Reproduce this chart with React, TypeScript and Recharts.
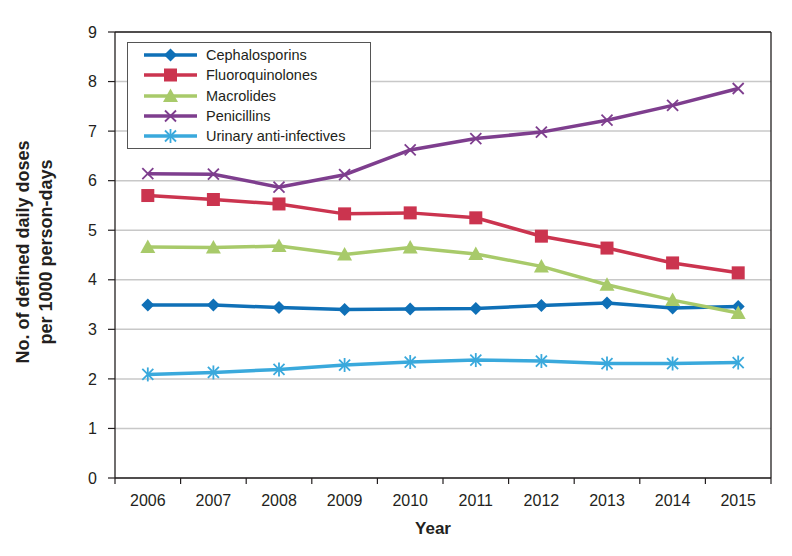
import { LineChart, Line, XAxis, YAxis, CartesianGrid, Legend, Label } from 'recharts';

const years = ['2006', '2007', '2008', '2009', '2010', '2011', '2012', '2013', '2014', '2015'];
const cephalosporins = [3.49, 3.49, 3.44, 3.4, 3.41, 3.42, 3.48, 3.53, 3.43, 3.46];
const fluoroquinolones = [5.7, 5.62, 5.53, 5.33, 5.35, 5.25, 4.88, 4.64, 4.34, 4.14];
const macrolides = [4.66, 4.65, 4.68, 4.51, 4.65, 4.52, 4.27, 3.9, 3.59, 3.33];
const penicillins = [6.14, 6.13, 5.87, 6.12, 6.62, 6.85, 6.98, 7.22, 7.52, 7.86];
const urinaryAntiInfectives = [2.09, 2.13, 2.19, 2.28, 2.34, 2.38, 2.36, 2.31, 2.31, 2.33];
const yTicks = [0, 1, 2, 3, 4, 5, 6, 7, 8, 9];

type Shape = 'diamond' | 'square' | 'triangle' | 'x' | 'asterisk';

const series: { key: string; name: string; color: string; shape: Shape }[] = [
  { key: 'cephalosporins', name: 'Cephalosporins', color: '#0f70b7', shape: 'diamond' },
  { key: 'fluoroquinolones', name: 'Fluoroquinolones', color: '#cb344f', shape: 'square' },
  { key: 'macrolides', name: 'Macrolides', color: '#a8ca6a', shape: 'triangle' },
  { key: 'penicillins', name: 'Penicillins', color: '#7e3e8e', shape: 'x' },
  { key: 'urinary', name: 'Urinary anti-infectives', color: '#3aa9dc', shape: 'asterisk' },
];

const data = years.map((year, i) => ({
  year,
  cephalosporins: cephalosporins[i],
  fluoroquinolones: fluoroquinolones[i],
  macrolides: macrolides[i],
  penicillins: penicillins[i],
  urinary: urinaryAntiInfectives[i],
}));

const FONT = '"Liberation Sans", Arial, sans-serif';
const INK = '#231f20';
const X_TICK_SIZE = 6;
const X_TICK_MARGIN = 9;

function Marker({ shape, cx, cy, color }: { shape: Shape; cx: number; cy: number; color: string }) {
  if (cx == null || cy == null) return null;
  switch (shape) {
    case 'diamond': {
      const r = 6.5;
      return <polygon points={`${cx},${cy - r} ${cx + r},${cy} ${cx},${cy + r} ${cx - r},${cy}`} fill={color} />;
    }
    case 'square': {
      const s = 6.5;
      return <rect x={cx - s} y={cy - s} width={s * 2} height={s * 2} fill={color} />;
    }
    case 'triangle':
      return <polygon points={`${cx},${cy - 7.5} ${cx + 7.5},${cy + 6} ${cx - 7.5},${cy + 6}`} fill={color} />;
    case 'x': {
      const r = 5.5;
      return (
        <g stroke={color} strokeWidth={1.8}>
          <line x1={cx - r} y1={cy - r} x2={cx + r} y2={cy + r} />
          <line x1={cx - r} y1={cy + r} x2={cx + r} y2={cy - r} />
        </g>
      );
    }
    default: {
      const r = 5.5;
      return (
        <g stroke={color} strokeWidth={1.8}>
          <line x1={cx - r} y1={cy - r} x2={cx + r} y2={cy + r} />
          <line x1={cx - r} y1={cy + r} x2={cx + r} y2={cy - r} />
          <line x1={cx} y1={cy - r - 1.5} x2={cx} y2={cy + r + 1.5} />
        </g>
      );
    }
  }
}

// year label at the band centre, tick marks on the band edges (Excel style)
function YearTick(props: any) {
  const { x, y, payload, index, visibleTicksCount, width } = props;
  const half = payload?.offset || width / visibleTicksCount / 2;
  const y0 = y - X_TICK_SIZE - X_TICK_MARGIN;
  return (
    <g>
      <line x1={x - half} y1={y0} x2={x - half} y2={y0 + X_TICK_SIZE} stroke={INK} strokeWidth={1.2} />
      {index === visibleTicksCount - 1 && (
        <line x1={x + half} y1={y0} x2={x + half} y2={y0 + X_TICK_SIZE} stroke={INK} strokeWidth={1.2} />
      )}
      <text x={x} y={y} dy="0.8em" textAnchor="middle" fill={INK} fontSize={16} fontFamily={FONT}>
        {payload.value}
      </text>
    </g>
  );
}

function LegendBox() {
  return (
    <div
      style={{
        boxSizing: 'border-box',
        width: 244,
        height: 107,
        border: '1.5px solid #555',
        background: '#fff',
        paddingTop: 2,
        paddingLeft: 16,
        fontFamily: FONT,
        fontSize: 14.5,
        color: INK,
      }}
    >
      {series.map((s) => (
        <div key={s.key} style={{ display: 'flex', alignItems: 'center', height: 20.3 }}>
          <svg width={53} height={16} style={{ display: 'block' }}>
            <line x1={0} y1={8} x2={53} y2={8} stroke={s.color} strokeWidth={3.5} />
            <Marker shape={s.shape} cx={26.5} cy={8} color={s.color} />
          </svg>
          <span style={{ marginLeft: 9 }}>{s.name}</span>
        </div>
      ))}
    </div>
  );
}

function YTitle(props: any) {
  const vb = props.viewBox || {};
  const cy = (vb.y ?? 32) + (vb.height ?? 446) / 2 - 3;
  return (
    <g fontFamily={FONT} fontWeight="bold" fontSize={18} fill={INK} textAnchor="middle">
      <text x={29} y={cy} transform={`rotate(-90, 29, ${cy})`}>
        No. of defined daily doses
      </text>
      <text x={52} y={cy} transform={`rotate(-90, 52, ${cy})`}>
        per 1000 person-days
      </text>
    </g>
  );
}

export default function App() {
  return (
    <div style={{ position: 'absolute', left: 0, top: 0, width: 792, height: 556, background: '#fff' }}>
      <LineChart width={792} height={556} data={data} margin={{ top: 31, right: 20, bottom: 77, left: 0 }}>
        <CartesianGrid horizontal vertical={false} stroke="#c8c8c8" strokeWidth={1.5} />
        <XAxis
          dataKey="year"
          scale="band"
          height={1}
          interval={0}
          tickLine={false}
          tickSize={X_TICK_SIZE}
          tickMargin={X_TICK_MARGIN}
          axisLine={{ stroke: INK, strokeWidth: 1.3 }}
          tick={<YearTick />}
        >
          <Label
            value="Year"
            position="bottom"
            offset={43}
            dx={-10}
            style={{ fontFamily: FONT, fontWeight: 'bold', fontSize: 17, fill: INK }}
          />
        </XAxis>
        <XAxis
          xAxisId="top"
          orientation="top"
          type="number"
          domain={[0, 1]}
          allowDataOverflow
          height={1}
          tick={false}
          tickLine={false}
          axisLine={{ stroke: INK, strokeWidth: 1.3 }}
        />
        <YAxis
          type="number"
          domain={[0, 9]}
          ticks={yTicks}
          interval={0}
          width={115}
          tickSize={7}
          tickMargin={11}
          tickLine={{ stroke: INK, strokeWidth: 1.2 }}
          axisLine={{ stroke: INK, strokeWidth: 1.3 }}
          tick={{ fill: INK, fontSize: 16, fontFamily: FONT }}
        >
          <Label content={YTitle} />
        </YAxis>
        <YAxis
          yAxisId="right"
          orientation="right"
          type="number"
          domain={[0, 9]}
          allowDataOverflow
          width={1}
          tick={false}
          tickLine={false}
          axisLine={{ stroke: INK, strokeWidth: 1.3 }}
        />
        <Legend
          layout="vertical"
          align="center"
          verticalAlign="middle"
          content={() => <LegendBox />}
          wrapperStyle={{ left: 127, top: 42, width: 244, height: 107 }}
        />
        {series.map((s) => (
          <Line
            key={s.key}
            dataKey={s.key}
            name={s.name}
            stroke={s.color}
            strokeWidth={3.5}
            isAnimationActive={false}
            dot={(p: any) => (
              <Marker key={`${s.key}-${p.index}`} shape={s.shape} cx={p.cx} cy={p.cy} color={s.color} />
            )}
            activeDot={false}
          />
        ))}
      </LineChart>
    </div>
  );
}
